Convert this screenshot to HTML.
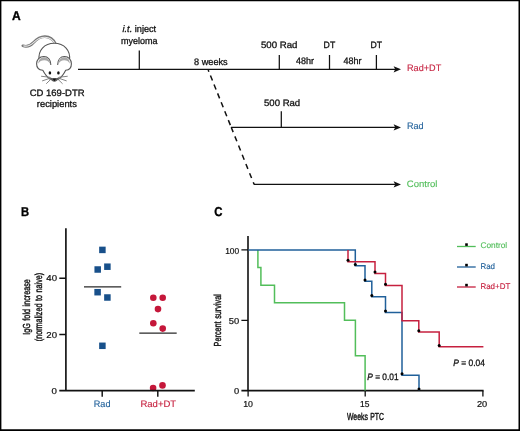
<!DOCTYPE html>
<html><head><meta charset="utf-8"><title>Figure</title>
<style>
html,body{margin:0;padding:0;background:#fff;}
body{width:520px;height:431px;overflow:hidden;}
svg{display:block;font-family:"Liberation Sans",sans-serif;}
text{stroke-linejoin:round;text-rendering:geometricPrecision;}
.t{font-size:9.4px;fill:#111;stroke:#111;stroke-width:0.3px;}
.b{font-size:12.9px;font-weight:bold;fill:#000;stroke:#000;stroke-width:0.35px;}
.lg{font-size:8.3px;}
.tk{font-size:8.6px;stroke-width:0.2px;}
.yl{font-size:10.2px;fill:#111;stroke:#111;stroke-width:0.42px;word-spacing:0.8px;}
</style></head><body>
<svg width="520" height="431" viewBox="0 0 520 431">
<rect x="0" y="0" width="520" height="431" fill="#fff"/>
<path d="M0,0H520V431H0Z M1.4,1.2V429.3H518.500V1.2Z" fill="#000" fill-rule="evenodd"/>

<text class="b" x="11.9" y="20.100" textLength="8.700" lengthAdjust="spacingAndGlyphs">A</text>
<text class="b" x="20.900" y="215.600" textLength="8.100" lengthAdjust="spacingAndGlyphs">B</text>
<text class="b" x="214.300" y="216" textLength="8.200" lengthAdjust="spacingAndGlyphs">C</text>
<g fill="none" stroke="#555" stroke-width="1.1" stroke-linecap="round" stroke-linejoin="round">
<path d="M22.8,45.8 C27,47.2 30.500,45.8 33.500,42.500 C37,38.800 40.500,36.600 45,36.700 C50,36.900 53.300,39.500 55.300,43.600" stroke-width="2.700" stroke="#777"/>
<path d="M23.8,45.900 C27,46.800 30.500,45.300 33.800,42.300 C37.300,39 40.800,37.200 45,37.300 C49.500,37.500 52.800,39.800 54.800,43.600" stroke-width="1.100" stroke="#e8e8e8"/>
<path d="M39.3,60 C37.500,50.500 44.500,43.200 54.300,43.200 C64,43.200 71,50.500 69.400,60" fill="#fff"/>
<path d="M42.5,66 C45,74 49,79.500 54.400,81 C59.800,79.500 63.800,74 66.300,66 L54.400,60 Z" fill="#fff" stroke="none"/>
<path d="M50.8,64.500 C50.800,59.800 48,56.500 43.800,56.500 C39.500,56.500 36.600,59.800 36.600,63.800 C36.600,67.800 39.300,70 42.800,70.300 C45,74.500 47.500,77.500 50.200,79.300" fill="#fff"/>
<path d="M57.7,64.500 C57.700,59.800 60.400,56.500 64.500,56.500 C68.600,56.500 71.400,59.800 71.400,63.800 C71.400,67.800 69,70 65.700,70.300 C63.600,74.500 61.200,77.500 58.500,79.300" fill="#fff"/>
<path d="M38.3,63.800 C38.300,59.500 41,57.200 44,57.200 C47,57.200 50,59.500 50.400,64.300 C49,61.300 47,60.200 44.300,60.200 C41.500,60.200 39.500,61.300 38.300,63.800Z" fill="#a8a8a8" stroke="none"/>
<path d="M69.800,63.800 C69.800,59.500 67.300,57.200 64.400,57.200 C61.500,57.200 58.600,59.500 58.200,64.300 C59.600,61.300 61.500,60.200 64.100,60.200 C66.800,60.200 68.700,61.300 69.800,63.800Z" fill="#a8a8a8" stroke="none"/>
<path d="M49.5,77.200 L41.500,76.300 M49.800,78.300 L42.500,80.800 M50.800,79.300 L46.500,83.500 M59.300,77.200 L67.300,76.300 M59,78.300 L66.300,80.800 M58,79.300 L62.300,83.500" stroke-width="0.900" stroke="#777"/>
</g>
<path d="M49.3,77 C50.800,80.500 52.800,81.800 54.400,81.800 C56,81.800 58,80.500 59.500,77 C56.500,78.800 52.300,78.800 49.300,77Z" fill="#5a5a5a"/>
<ellipse cx="49.900" cy="72.900" rx="1.300" ry="1.600" fill="#111"/><ellipse cx="58.400" cy="72.900" rx="1.300" ry="1.600" fill="#111"/>
<path d="M52.6,78.600 L56.200,78.600 L54.400,81.300Z" fill="#111"/>

<text class="t" x="29.7" y="95.8" textLength="54.9" lengthAdjust="spacingAndGlyphs">CD 169-DTR</text>
<text class="t" x="36.8" y="107.2" textLength="40.1" lengthAdjust="spacingAndGlyphs">recipients</text>
<g stroke="#111" stroke-width="1.25" fill="none">
<path d="M78,69.350H397"/>
<path d="M139.300,50.500V69.350 M279.300,55V69.350 M329.500,55V69.350 M376.400,55V69.350"/>
<path d="M231,127.400H397 M281.300,111.300V127.400"/>
<path d="M254,184.400H397"/>
<path d="M208.2,70L231.2,127.2" stroke-dasharray="5.4,4.2" stroke-dashoffset="3.6" stroke-width="1.5"/>
<path d="M231.2,127.2L254.1,184.4" stroke-dasharray="5.3,4.6" stroke-dashoffset="0" stroke-width="1.5"/>
</g>
<path d="M401,69.35 L393.600,66.25 L395.200,69.35 L393.600,72.45Z" fill="#111"/>
<path d="M401,127.4 L393.600,124.3 L395.200,127.4 L393.600,130.5Z" fill="#111"/>
<path d="M401,184.4 L393.600,181.3 L395.200,184.4 L393.600,187.5Z" fill="#111"/>
<text class="t" x="122.500" y="32.400" textLength="33.700" lengthAdjust="spacingAndGlyphs"><tspan font-style="italic">i.t.</tspan> inject</text>
<text class="t" x="121.0" y="44" textLength="36.5" lengthAdjust="spacingAndGlyphs">myeloma</text>
<text class="t" x="194.0" y="65" textLength="33.7" lengthAdjust="spacingAndGlyphs">8 weeks</text>
<text class="t" x="261.0" y="47.6" textLength="36.5" lengthAdjust="spacingAndGlyphs">500 Rad</text>
<text class="t" x="296.0" y="64.4" textLength="18.0" lengthAdjust="spacingAndGlyphs">48hr</text>
<text class="t" x="343.5" y="64.4" textLength="18.0" lengthAdjust="spacingAndGlyphs">48hr</text>
<text class="t" x="323.6" y="47.5" textLength="11.6" lengthAdjust="spacingAndGlyphs">DT</text>
<text class="t" x="370.4" y="47.5" textLength="11.6" lengthAdjust="spacingAndGlyphs">DT</text>
<text class="t" x="264.0" y="105.6" textLength="36.2" lengthAdjust="spacingAndGlyphs">500 Rad</text>
<text class="t" x="407.0" y="71" textLength="34.2" lengthAdjust="spacingAndGlyphs" style="fill:#c6203f;stroke:#c6203f;stroke-width:0.12px">Rad+DT</text>
<text class="t" x="406.9" y="128.9" textLength="16.6" lengthAdjust="spacingAndGlyphs" style="fill:#20609a;stroke:#20609a;stroke-width:0.12px">Rad</text>
<text class="t" x="406.8" y="187" textLength="30.7" lengthAdjust="spacingAndGlyphs" style="fill:#52be5a;stroke:#52be5a;stroke-width:0.12px">Control</text>
<path d="M84,286.900H121.200 M139.300,333.200H176.700" stroke="#2a2a2a" stroke-width="1.250" fill="none"/>
<rect x="99.15" y="246.65" width="6.500" height="6.500" fill="#18508a"/>
<rect x="94.45" y="266.25" width="6.500" height="6.500" fill="#18508a"/>
<rect x="104.15" y="263.45" width="6.500" height="6.500" fill="#18508a"/>
<rect x="94.35" y="288.95" width="6.500" height="6.500" fill="#18508a"/>
<rect x="104.15" y="294.25" width="6.500" height="6.500" fill="#18508a"/>
<rect x="99.15" y="342.55" width="6.500" height="6.500" fill="#18508a"/>
<circle cx="153.3" cy="297.7" r="3.300" fill="#c5173a"/>
<circle cx="162.7" cy="297.7" r="3.300" fill="#c5173a"/>
<circle cx="158" cy="309.1" r="3.300" fill="#c5173a"/>
<circle cx="153.3" cy="323.3" r="3.300" fill="#c5173a"/>
<circle cx="162.7" cy="328.6" r="3.300" fill="#c5173a"/>
<circle cx="153.1" cy="388" r="3.300" fill="#c5173a"/>
<circle cx="162.5" cy="385.4" r="3.300" fill="#c5173a"/>
<g stroke="#111" stroke-width="1.650" fill="none">
<path d="M65.900,228.300V390.600 M59.300,390.600H194.800"/>
<path d="M59.300,334.500H65.900 M59.300,278.200H65.900 M102.200,390.600V396.700 M157.800,390.600V396.700" stroke-width="1.450"/>
</g>
<text class="t tk" x="51.6" y="394.3" textLength="5.4" lengthAdjust="spacingAndGlyphs">0</text>
<text class="t tk" x="46.3" y="337.7" textLength="10.7" lengthAdjust="spacingAndGlyphs">20</text>
<text class="t tk" x="46.3" y="281.3" textLength="10.7" lengthAdjust="spacingAndGlyphs">40</text>
<text class="t" x="93.8" y="407" textLength="16.7" lengthAdjust="spacingAndGlyphs" style="fill:#20609a;stroke:#20609a;stroke-width:0.12px">Rad</text>
<text class="t" x="140.4" y="407" textLength="35.8" lengthAdjust="spacingAndGlyphs" style="fill:#c6203f;stroke:#c6203f;stroke-width:0.12px">Rad+DT</text>
<text class="yl" transform="translate(30,307) rotate(-90)" x="-27.850" y="0" textLength="55.700" lengthAdjust="spacingAndGlyphs">IgG fold increase</text>
<text class="yl" transform="translate(42.300,307) rotate(-90)" x="-34.200" y="0" textLength="68.400" lengthAdjust="spacingAndGlyphs">(normalized to naive)</text>
<g stroke="#111" stroke-width="1.600" fill="none">
<path d="M248,236V390.650 M241.400,390.650H483.600"/>
<path d="M241.400,320.300H248 M241.400,249.900H248 M248.100,390.650V396.600 M365.200,390.650V396.600 M482.900,390.650V396.600" stroke-width="1.300"/>
</g>
<path d="M257.9,250 L257.9,267.5 L260.9,267.5 L260.9,285.3 L274.5,285.3 L274.5,302.8 L344.5,302.8 L344.5,320.3 L355.4,320.3 L355.4,355.8 L365.1,355.8 L365.1,390.5" stroke="#52be5a" stroke-width="1.500" fill="none"/>
<path d="M248.5,249.9 L355.3,249.9 L355.3,265.8 L365,265.8 L365,281.3 L371.8,281.3 L371.8,296.8 L385.5,296.8 L385.5,312.5 L402,312.5 L402,375.2 L419,375.2 L419,390.5" stroke="#20609a" stroke-width="1.500" fill="none"/>
<path d="M348,249.9 L348,261.7 L375,261.7 L375,273.5 L385.5,273.5 L385.5,285.6 L402,285.6 L402,320.8 L418.8,320.8 L418.8,332.1 L439.2,332.1 L439.2,346.8 L483.4,346.8" stroke="#c6203f" stroke-width="1.500" fill="none"/>
<circle cx="355.3" cy="264.4" r="1.500" fill="#000"/>
<circle cx="365" cy="279.9" r="1.500" fill="#000"/>
<circle cx="371.8" cy="295.4" r="1.500" fill="#000"/>
<circle cx="385.5" cy="311.1" r="1.500" fill="#000"/>
<circle cx="402" cy="373.8" r="1.500" fill="#000"/>
<circle cx="419" cy="389" r="1.500" fill="#000"/>
<circle cx="348" cy="260.3" r="1.500" fill="#000"/>
<circle cx="375" cy="272.1" r="1.500" fill="#000"/>
<circle cx="385.5" cy="284.2" r="1.500" fill="#000"/>
<circle cx="418.8" cy="330.7" r="1.500" fill="#000"/>
<circle cx="439.2" cy="345.4" r="1.500" fill="#000"/>
<text class="t tk" x="234.0" y="394.3" textLength="5.2" lengthAdjust="spacingAndGlyphs">0</text>
<text class="t tk" x="228.8" y="323.8" textLength="10.4" lengthAdjust="spacingAndGlyphs">50</text>
<text class="t tk" x="225.2" y="253.5" textLength="14.0" lengthAdjust="spacingAndGlyphs">100</text>
<text class="t tk" x="243.2" y="406.7" textLength="9.8" lengthAdjust="spacingAndGlyphs">10</text>
<text class="t tk" x="360.1" y="406.7" textLength="9.4" lengthAdjust="spacingAndGlyphs">15</text>
<text class="t tk" x="476.9" y="406.7" textLength="10.3" lengthAdjust="spacingAndGlyphs">20</text>
<text class="yl" x="347" y="419.700" textLength="37" lengthAdjust="spacingAndGlyphs">Weeks PTC</text>
<text class="yl" transform="translate(221.200,320.300) rotate(-90)" x="-26.100" y="0" textLength="52.200" lengthAdjust="spacingAndGlyphs">Percent survival</text>
<text class="t" x="367.300" y="379.700" textLength="31.300" lengthAdjust="spacingAndGlyphs"><tspan font-style="italic">P</tspan> = 0.01</text>
<text class="t" x="453.300" y="365.800" textLength="31.600" lengthAdjust="spacingAndGlyphs"><tspan font-style="italic">P</tspan> = 0.04</text>
<path d="M457,246.5H475.700" stroke="#52be5a" stroke-width="1.300"/>
<rect x="465.200" y="243.3" width="2.600" height="2.600" fill="#000"/>
<text class="t lg" x="480.4" y="248.3" textLength="26.8" lengthAdjust="spacingAndGlyphs" style="fill:#52be5a;stroke:#52be5a;stroke-width:0.12px">Control</text>
<path d="M457,267H475.700" stroke="#20609a" stroke-width="1.300"/>
<rect x="465.200" y="263.8" width="2.600" height="2.600" fill="#000"/>
<text class="t lg" x="480.4" y="268.8" textLength="14.6" lengthAdjust="spacingAndGlyphs" style="fill:#20609a;stroke:#20609a;stroke-width:0.12px">Rad</text>
<path d="M457,287H475.700" stroke="#c6203f" stroke-width="1.300"/>
<rect x="465.200" y="283.8" width="2.600" height="2.600" fill="#000"/>
<text class="t lg" x="480.4" y="288.8" textLength="29.9" lengthAdjust="spacingAndGlyphs" style="fill:#c6203f;stroke:#c6203f;stroke-width:0.12px">Rad+DT</text>
</svg></body></html>
